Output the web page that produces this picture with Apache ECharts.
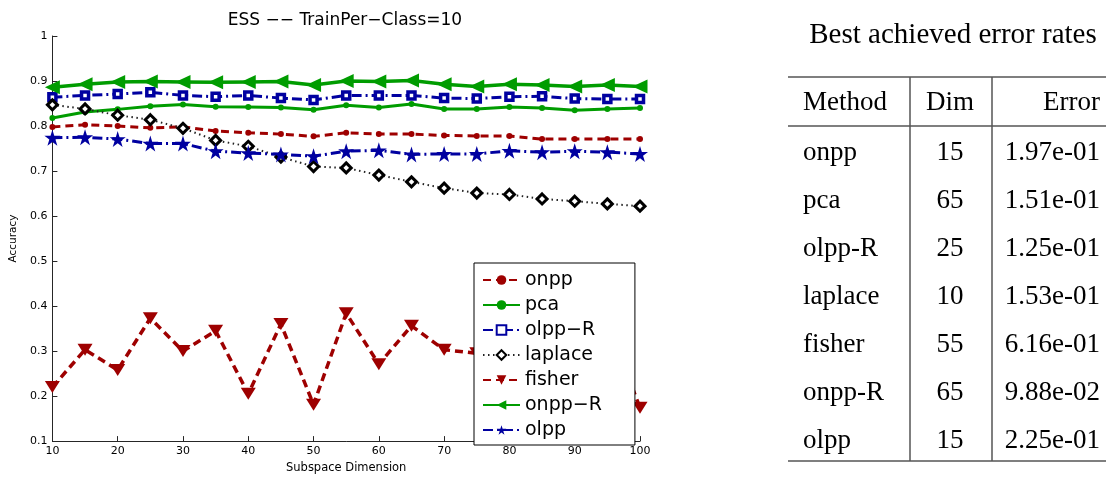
<!DOCTYPE html>
<html>
<head>
<meta charset="utf-8">
<script src="https://cdn.jsdelivr.net/npm/echarts@6/dist/echarts.min.js"></script>
<style>
html,body{margin:0;padding:0;background:#fff;}
#c{width:1106px;height:479px;}
</style>
</head>
<body>
<div id="c"></div>
<script>
// ---- data ----
const dims = [10,15,20,25,30,35,40,45,50,55,60,65,70,75,80,85,90,95,100];
const onpp    = [0.798,0.803,0.800,0.796,0.798,0.789,0.785,0.782,0.777,0.785,0.782,0.782,0.779,0.778,0.778,0.771,0.771,0.771,0.771];
const pca     = [0.818,0.831,0.837,0.844,0.848,0.843,0.842,0.841,0.836,0.846,0.841,0.849,0.838,0.838,0.842,0.840,0.835,0.838,0.840];
const olppR   = [0.864,0.868,0.871,0.875,0.868,0.865,0.868,0.862,0.858,0.868,0.868,0.868,0.862,0.861,0.865,0.866,0.861,0.860,0.860];
const laplace = [0.847,0.838,0.824,0.814,0.795,0.768,0.755,0.731,0.710,0.707,0.691,0.676,0.662,0.651,0.648,0.638,0.633,0.627,0.622];
const fisher  = [0.220,0.303,0.258,0.373,0.300,0.345,0.205,0.360,0.181,0.384,0.271,0.356,0.303,0.295,0.330,0.250,0.310,0.365,0.174];
const onppR   = [0.886,0.893,0.898,0.899,0.898,0.897,0.898,0.899,0.891,0.900,0.899,0.901,0.893,0.888,0.893,0.891,0.888,0.891,0.888];
const olpp    = [0.774,0.775,0.771,0.761,0.761,0.744,0.740,0.737,0.733,0.744,0.746,0.737,0.738,0.738,0.745,0.742,0.744,0.742,0.738];

const seriesNames = ['onpp','pca','olpp\u2212R','laplace','fisher','onpp\u2212R','olpp'];
const chartTitle = 'ESS \u2212\u2212 TrainPer\u2212Class=10';
const xName = 'Subspace Dimension';
const yName = 'Accuracy';

const tableTitle = 'Best achieved error rates';
const tableHeaders = ['Method','Dim','Error'];
const methods = ['onpp','pca','olpp-R','laplace','fisher','onpp-R','olpp'];
const bestDims = ['15','65','25','10','55','65','15'];
const bestErrors = ['1.97e-01','1.51e-01','1.25e-01','1.53e-01','6.16e-01','9.88e-02','2.25e-01'];

// ---- styling ----
const RED = '#9e0000', GREEN = '#009c00', BLUE = '#0000a0', BLACK = '#000';
const SANS = '"DejaVu Sans", sans-serif';
const SERIF = '"Liberation Serif", serif';
const STAR = 'path://M50,0 L61.2,34.5 L97.6,34.5 L68.2,55.9 L79.4,90.5 L50,69.1 L20.6,90.5 L31.8,55.9 L2.4,34.5 L38.8,34.5 Z';
const TRI_DOWN = 'path://M0,0 L10,0 L5,8 Z';
const TRI_LEFT = 'path://M0,5 L10,0 L10,10 Z';

function pairs(arr){ return dims.map((d,i)=>[d, arr[i]]); }

function mk(name, data, opt){
  return Object.assign({
    name: name, type: 'line', data: pairs(data),
    showSymbol: true, showAllSymbol: true, animation: false, silent: true,
    emphasis: {disabled: true}
  }, opt);
}

const series = [
  mk(seriesNames[0], onpp, {symbol:'circle', symbolSize:6, itemStyle:{color:RED}, lineStyle:{color:RED, width:3, type:[8,5]}}),
  mk(seriesNames[1], pca, {symbol:'circle', symbolSize:6, itemStyle:{color:GREEN}, lineStyle:{color:GREEN, width:3, type:'solid'}}),
  mk(seriesNames[2], olppR, {symbol:'rect', symbolSize:7, itemStyle:{color:'#fff', borderColor:BLUE, borderWidth:3.5}, lineStyle:{color:BLUE, width:3, type:[10,4,2,4]}}),
  mk(seriesNames[3], laplace, {symbol:'diamond', symbolSize:10, itemStyle:{color:'#fff', borderColor:BLACK, borderWidth:3}, lineStyle:{color:'#222', width:2, type:[1.5,3.5]}}),
  mk(seriesNames[4], fisher, {symbol:TRI_DOWN, symbolSize:[15,12], itemStyle:{color:RED}, lineStyle:{color:RED, width:3.5, type:[8,5]}}),
  mk(seriesNames[5], onppR, {symbol:TRI_LEFT, symbolSize:[15,14], itemStyle:{color:GREEN}, lineStyle:{color:GREEN, width:3.5, type:'solid'}}),
  mk(seriesNames[6], olpp, {symbol:STAR, symbolSize:16, itemStyle:{color:BLUE}, lineStyle:{color:BLUE, width:3, type:[10,4,2,4]}})
];

// ---- table graphics ----
const graphics = [];
function txt(s, x, y, align, size, font){
  graphics.push({type:'text', silent:true, style:{text:s, x:x, y:y, textAlign:align, align:align,
    textVerticalAlign:'middle', verticalAlign:'middle', font:'normal '+size+'px '+(font||SERIF), fill:'#000'}});
}
function ln(x1,y1,x2,y2){
  graphics.push({type:'line', silent:true, shape:{x1:x1,y1:y1,x2:x2,y2:y2}, style:{stroke:'#555', lineWidth:1.5}});
}
txt(chartTitle, 345, 21, 'center', 17, SANS);
txt(tableTitle, 953, 35, 'center', 29);
ln(788, 77, 1106, 77);
ln(788, 126, 1106, 126);
ln(788, 461, 1106, 461);
ln(910, 77, 910, 461);
ln(992, 77, 992, 461);
const colX = [803, 950, 1100];
const colAlign = ['left','center','right'];
tableHeaders.forEach((h,i)=>txt(h, colX[i], 103, colAlign[i], 27));
methods.forEach((m,r)=>{
  const y = 153 + r*48;
  txt(m, colX[0], y, 'left', 27);
  txt(bestDims[r], colX[1], y, 'center', 27);
  txt(bestErrors[r], colX[2], y, 'right', 27);
});

const axisCol = '#262626';
const option = {
  animation: false,
  backgroundColor: '#fff',
  grid: {left: 50, right: 466, top: 36, bottom: 31, containLabel: false},
  xAxis: {
    type: 'value', min: 10, max: 100, interval: 10,
    name: xName, nameLocation: 'middle', nameGap: 17,
    nameTextStyle: {fontFamily: SANS, fontSize: 11.5, color: '#000'},
    axisLine: {show: true, lineStyle: {color: axisCol, width: 1}},
    axisTick: {show: true, inside: true, length: 5, lineStyle: {color: axisCol}},
    axisLabel: {fontFamily: SANS, fontSize: 11, color: '#000', margin: 5},
    splitLine: {show: false}
  },
  yAxis: {
    type: 'value', min: 0.1, max: 1, interval: 0.1,
    name: yName, nameLocation: 'middle', nameGap: 29, nameRotate: 90,
    nameTextStyle: {fontFamily: SANS, fontSize: 10.5, color: '#000'},
    axisLine: {show: true, lineStyle: {color: axisCol, width: 1}},
    axisTick: {show: true, inside: true, length: 5, lineStyle: {color: axisCol}},
    axisLabel: {fontFamily: SANS, fontSize: 11, color: '#000', margin: 5,
      formatter: v => String(+v.toFixed(1))},
    splitLine: {show: false}
  },
  legend: {
    show: true, orient: 'vertical', left: 474, top: 263,
    padding: [7, 33, 5, 8], itemGap: 5, itemWidth: 37, itemHeight: 12,
    backgroundColor: '#fff', borderColor: '#000', borderWidth: 1,
    selectedMode: false,
    textStyle: {fontFamily: SANS, fontSize: 19, color: '#000', lineHeight: 20},
    data: seriesNames
  },
  graphic: graphics,
  series: series
};
const chart = echarts.init(document.getElementById('c'), null, {renderer: 'canvas'});
chart.setOption(option);
</script>
</body>
</html>
